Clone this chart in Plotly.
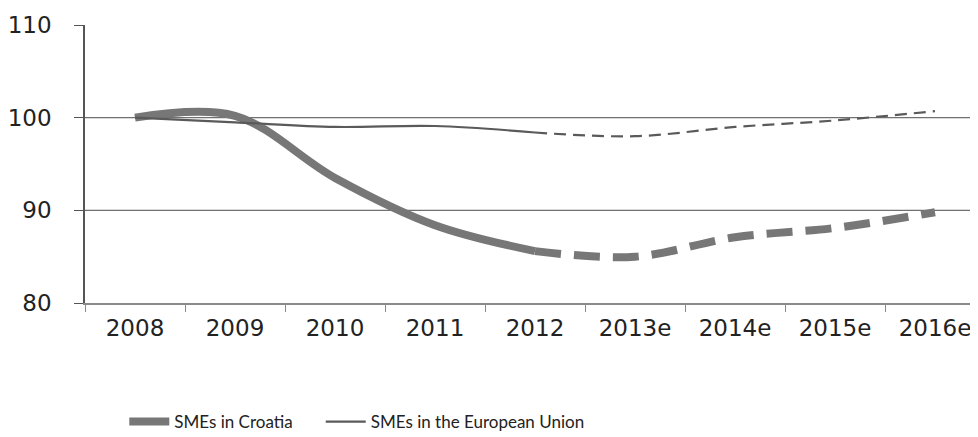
import plotly.graph_objects as go

categories = ["2008", "2009", "2010", "2011", "2012", "2013e", "2014e", "2015e", "2016e"]
croatia = [100.0, 100.2, 93.5, 88.4, 85.6, 85.0, 87.1, 88.1, 89.8]
eu = [100.0, 99.5, 99.0, 99.1, 98.4, 98.0, 99.0, 99.7, 100.7]
actual_count = 5  # 2008..2012 solid, 2012..2016e dashed (estimates)
y_ticks = [80, 90, 100, 110]
grid_values = [90, 100]

GREY = "#777777"
DARK = "#5a5a5a"

fig = go.Figure()

fig.add_trace(go.Scatter(x=categories[:actual_count], y=croatia[:actual_count], mode="lines",
                         line=dict(color=GREY, width=8, shape="spline", smoothing=1.0),
                         name="SMEs in Croatia", showlegend=True, legend="legend"))
fig.add_trace(go.Scatter(x=categories[actual_count - 1:], y=croatia[actual_count - 1:], mode="lines",
                         line=dict(color=GREY, width=8, shape="spline", smoothing=1.0, dash="26px,13px"),
                         showlegend=False))
fig.add_trace(go.Scatter(x=categories[:actual_count], y=eu[:actual_count], mode="lines",
                         line=dict(color=DARK, width=2.2, shape="spline", smoothing=1.0),
                         name="SMEs in the European Union", showlegend=True, legend="legend2"))
fig.add_trace(go.Scatter(x=categories[actual_count - 1:], y=eu[actual_count - 1:], mode="lines",
                         line=dict(color=DARK, width=2.2, shape="spline", smoothing=1.0, dash="12px,7px"),
                         showlegend=False))

for g in grid_values:
    fig.add_shape(type="line", xref="paper", x0=0, x1=1, yref="y", y0=g, y1=g,
                  line=dict(color="#707070", width=1.3), layer="below")

legend_font = dict(family="Lato, Open Sans, sans-serif", size=17, color="#222222")
fig.update_layout(
    width=970, height=429,
    margin=dict(l=77, r=0, t=17, b=134, autoexpand=False),
    paper_bgcolor="white", plot_bgcolor="white",
    showlegend=True,
    legend=dict(orientation="h", x=0.044, y=-0.428, xanchor="left", yanchor="middle",
                font=legend_font, itemwidth=40, bgcolor="rgba(0,0,0,0)"),
    legend2=dict(orientation="h", x=0.264, y=-0.428, xanchor="left", yanchor="middle",
                 font=legend_font, itemwidth=40, bgcolor="rgba(0,0,0,0)"),
    font=dict(family="DejaVu Sans, sans-serif", color="#222222"),
)

fig.update_xaxes(type="category", categoryorder="array", categoryarray=categories,
                 range=[-0.5, 8.43], showgrid=False, showline=True, linecolor="#8a8a8a", linewidth=1.5,
                 ticks="outside", tickson="boundaries", ticklen=7, tickcolor="#8a8a8a", tickwidth=1.3,
                 tickfont=dict(family="DejaVu Sans", size=23, color="#222222"), zeroline=False,
                 automargin=False, ticklabelstandoff=4)
fig.update_yaxes(range=[80, 110], tickvals=y_ticks, showgrid=False, showline=True,
                 linecolor="#555555", linewidth=1.5, ticks="outside", ticklen=9,
                 tickcolor="#555555", tickwidth=1.3, tickfont=dict(family="DejaVu Sans", size=23, color="#222222"),
                 zeroline=False, automargin=False, ticklabelstandoff=18)

fig.write_html("out.html")
